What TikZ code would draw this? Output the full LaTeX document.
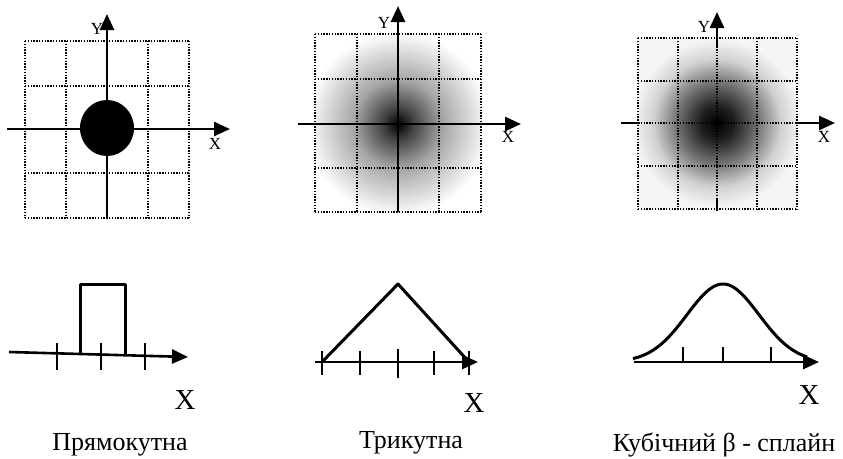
\documentclass[tikz,border=0pt]{standalone}
\usepackage{fontspec}
\setmainfont{Liberation Serif}
\usetikzlibrary{positioning,arrows.meta}

\pgfdeclareradialshading{triblur}{\pgfpoint{0bp}{0bp}}{color(0bp)=(black); color(4bp)=(black!75); color(12bp)=(black!35); color(25bp)=(white); color(50bp)=(white)}
\pgfdeclareradialshading{splineblur}{\pgfpoint{0bp}{0bp}}{color(0bp)=(black); color(5bp)=(black!88); color(12bp)=(black!55); color(19bp)=(black!18); color(25bp)=(black!4); color(50bp)=(black!4)}

\begin{document}
\begin{tikzpicture}[x=1pt, y=-1pt,
    gridLine/.style={line width=1.3pt, dash pattern=on 1.4pt off 1.4pt},
    axisLine/.style={line width=2.6pt, -{Triangle[length=16pt, width=14pt]}},
    axisPart/.style={line width=2.6pt},
    tickLine/.style={line width=1.4pt},
    curveLine/.style={line width=3pt, line join=round},
    axLabel/.style={font=\fontsize{17}{17}\selectfont, inner sep=0pt},
    bigLabel/.style={font=\fontsize{29}{29}\selectfont, inner sep=0pt},
    caption/.style={font=\fontsize{26}{26}\selectfont, inner sep=0pt}
]
    \useasboundingbox (0,0) rectangle (843,458);

    % Panel 1: rectangular filter
    \foreach \gx in {25,66,148,189} \draw[gridLine] (\gx,41) -- (\gx,218);
    \foreach \gy in {41,86,173,218} \draw[gridLine] (25,\gy) -- (189,\gy);
    \coordinate (xs1) at (7,129);
    \coordinate (xe1) at (230,129);
    \coordinate (ys1) at (107,218);
    \coordinate (ye1) at (107,14);
    \draw[axisLine] (xs1) -- (xe1);
    \draw[axisLine] (ys1) -- (ye1);
    \fill (107,128) ellipse (27 and 28);
    \node[axLabel] (labY1) at (97,29) {Y};
    \node[axLabel] (labX1) at (215,144) {X};

    % Panel 2: triangle filter
    \begin{scope}
        \clip (315,34) rectangle (481,212);
        \shade[shading=triblur] (398,124) circle (92);
    \end{scope}
    \foreach \gx in {315,357,439,481} \draw[gridLine] (\gx,34) -- (\gx,212);
    \foreach \gy in {34,79,168,212} \draw[gridLine] (315,\gy) -- (481,\gy);
    \coordinate (xs2) at (298,124);
    \coordinate (xe2) at (521,124);
    \coordinate (ys2) at (398,212);
    \coordinate (ye2) at (398,6);
    \draw[axisLine] (xs2) -- (xe2);
    \draw[axisLine] (ys2) -- (ye2);
    \node[axLabel] (labY2) at (384,23) {Y};
    \node[axLabel] (labX2) at (508,137) {X};

    % Panel 3: cubic spline filter
    \fill[black!4] (638,38) rectangle (797,209);
    \begin{scope}
        \clip (638,38) rectangle (797,209);
        \shade[shading=splineblur] (717,123) circle (84);
    \end{scope}
    \foreach \gx in {638,678,717,757,797} \draw[gridLine] (\gx,38) -- (\gx,209);
    \foreach \gy in {38,81,123,166,209} \draw[gridLine] (638,\gy) -- (797,\gy);
    \coordinate (xs3) at (621,123);
    \coordinate (xa3) at (640,123);
    \coordinate (xb3) at (795,123);
    \coordinate (xe3) at (835,123);
    \coordinate (ya3) at (717,48);
    \coordinate (ye3) at (717,12);
    \draw[axisPart] (xs3) -- (xa3);
    \draw[axisLine] (xb3) -- (xe3);
    \draw[axisLine] (ya3) -- (ye3);
    \draw[axisPart] (717,198) -- (717,211);
    \node[axLabel] (labY3) at (704,27) {Y};
    \node[axLabel] (labX3) at (824,137) {X};

    % Bottom 1: box profile
    \coordinate (bs1) at (9,352);
    \coordinate (be1) at (188,357);
    \draw[axisLine] (bs1) -- (be1);
    \foreach \tx in {57,101,145} \draw[tickLine] (\tx,343) -- (\tx,370);
    \draw[curveLine] (80,354) -- (80,284) -- (125,284) -- (125,355);
    \node[bigLabel] (bigX1) at (185,400) {X};
    \node[caption] (capRect) at (120,445) {Прямокутна};

    % Bottom 2: tent profile
    \coordinate (bs2) at (315,362);
    \coordinate (be2) at (478,362);
    \draw[axisLine] (bs2) -- (be2);
    \foreach \tx in {322,360,434,469} \draw[tickLine] (\tx,351) -- (\tx,375);
    \draw[tickLine] (398,349) -- (398,378);
    \draw[curveLine] (322,362) -- (398,284) -- (469,362);
    \node[bigLabel] (bigX2) at (474,403) {X};
    \node[caption] (capTri) at (411,443) {Трикутна};

    % Bottom 3: bell profile
    \coordinate (bs3) at (634,362);
    \coordinate (be3) at (819,362);
    \draw[axisLine] (bs3) -- (be3);
    \foreach \tx in {683,723,771} \draw[tickLine] (\tx,347) -- (\tx,362);
    \draw[curveLine] plot[domain=-90:84, samples=70, smooth]
        ({723+\x}, {362-78*exp(-\x*\x/2592)});
    \node[bigLabel] (bigX3) at (809,395) {X};
    \node[caption] (capSpline) at (724,445) {Кубічний β - сплайн};

\end{tikzpicture}
\end{document}
